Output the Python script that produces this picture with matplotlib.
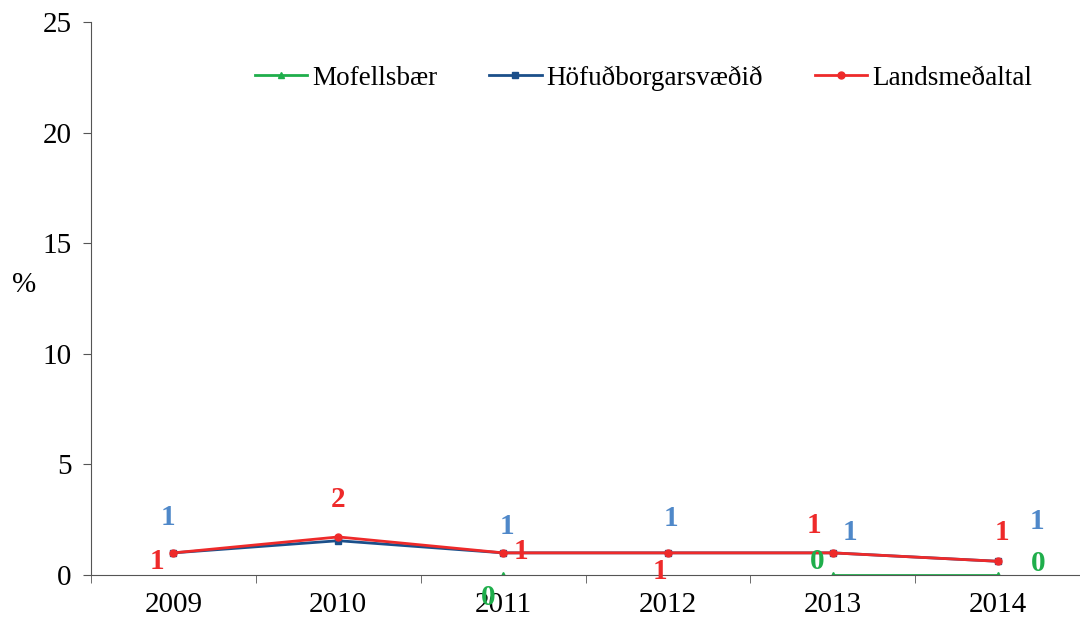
import numpy as np
import matplotlib
matplotlib.use('Agg')
import matplotlib.pyplot as plt

years = ['2009', '2010', '2011', '2012', '2013', '2014']
mofellsbaer = [np.nan, np.nan, 0.0, np.nan, 0.0, 0.0]
hofudborg = [1.0, 1.55, 1.0, 1.0, 1.0, 0.62]
landsmedaltal = [1.0, 1.72, 1.0, 1.0, 1.0, 0.62]

# value labels as shown (None = no label)
mof_labels = [None, None, '0', None, '0', '0']
hof_labels = ['1', None, '1', '1', '1', '1']
land_labels = ['1', '2', '1', '1', '1', '1']

green = '#1fae4b'
navy = '#1b4f8a'
red = '#ee2a2a'
light_blue = '#4f88c9'

plt.rcParams['font.family'] = ['Liberation Serif', 'DejaVu Serif']

fig = plt.figure(figsize=(10.8, 6.18), dpi=100)
ax = fig.add_axes([0.0843, 0.0696, 0.9157, 0.8948])

x = np.arange(len(years))
ax.plot(x, mofellsbaer, color=green, marker='^', markersize=5, linewidth=2, label='Mofellsbær')
ax.plot(x, hofudborg, color=navy, marker='s', markersize=5, linewidth=2, label='Höfuðborgarsvæðið')
ax.plot(x, landsmedaltal, color=red, marker='o', markersize=5, linewidth=2, label='Landsmeðaltal')

# label offsets in pixels, placed by hand as in the original
hof_off = [(-6, 35), None, (4, 26), (3, 34), (17, 20), (39, 40)]
land_off = [(-17, -9), (0, 37), (18, 1), (-8, -19), (-19, 27), (4, 29)]
mof_off = [None, None, (-15, -23), None, (-16, 13), (41, 11)]

for vals, labels, offs, col in [(hofudborg, hof_labels, hof_off, light_blue),
                                (landsmedaltal, land_labels, land_off, red),
                                (mofellsbaer, mof_labels, mof_off, green)]:
    for i, (v, t, o) in enumerate(zip(vals, labels, offs)):
        if t is None:
            continue
        ax.annotate(t, (x[i], v), xytext=o, textcoords='offset pixels',
                    ha='center', va='center', color=col, fontsize=21, fontweight='bold')

ax.set_xlim(-0.5, len(years) - 0.5)
ax.set_ylim(0, 25)
ax.set_yticks([0, 5, 10, 15, 20, 25])
ax.set_xticks(x)
ax.set_xticklabels(years)
ax.set_xticks(np.arange(-0.5, len(years), 1.0), minor=True)
ax.tick_params(axis='x', which='major', length=0, pad=12, labelsize=21)
ax.tick_params(axis='x', which='minor', length=6, direction='out', color='#555555')
ax.tick_params(axis='y', length=6, direction='out', labelsize=21, pad=8, color='#555555')
ax.spines['top'].set_visible(False)
ax.spines['right'].set_visible(False)
ax.spines['left'].set_color('#555555')
ax.spines['bottom'].set_color('#555555')

ax.set_ylabel('%', rotation=0, fontsize=21)
ax.yaxis.set_label_coords(-0.068, 0.5)

fig.legend(loc='center left', bbox_to_anchor=(241 / 1080, 1 - 78 / 618), ncol=3, frameon=False,
           fontsize=19.5, handlelength=1.95, handletextpad=0.18, columnspacing=1.9, borderpad=0)

fig.savefig('out.png', dpi=100)
